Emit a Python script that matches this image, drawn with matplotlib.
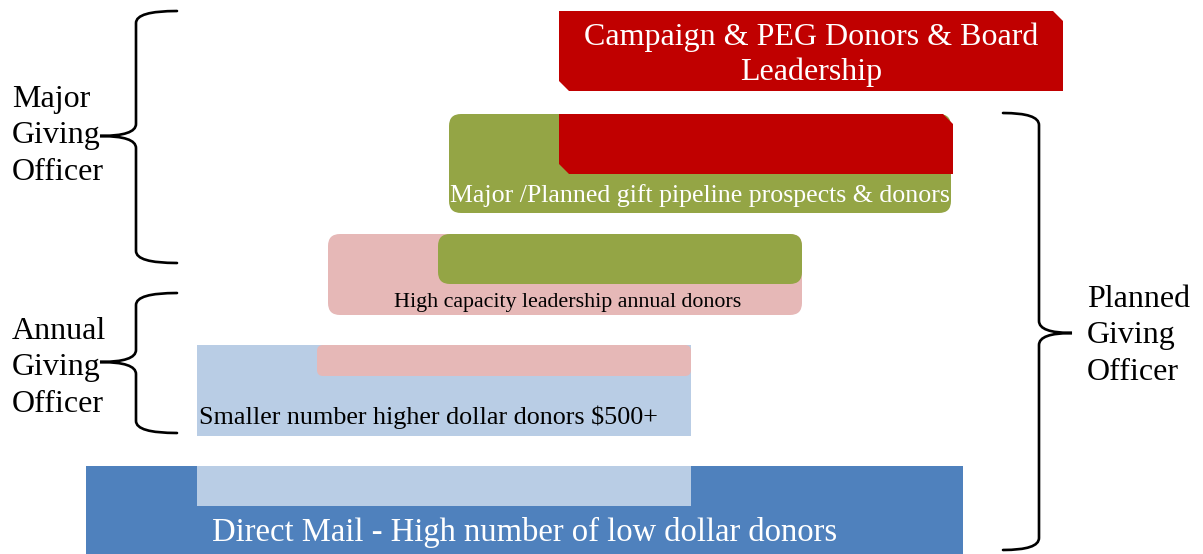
import matplotlib.pyplot as plt
from matplotlib.patches import FancyBboxPatch, Polygon, Rectangle
from matplotlib.path import Path
from matplotlib.patches import PathPatch

# tiers of the giving pyramid, bottom to top (pixel extents of the picture)
tier_labels = [
    "Direct Mail - High number of low dollar donors",
    "Smaller number higher dollar donors $500+",
    "High capacity leadership annual donors",
    "Major /Planned gift pipeline prospects & donors",
    "Campaign & PEG Donors & Board\nLeadership",
]
tier_left = [86, 197, 328, 449, 559]
tier_right = [963, 691, 802, 951, 1063]
tier_top = [466, 345, 234, 114, 11]
tier_bottom = [554, 436, 315, 213, 91]
tier_colors = ["#4F81BD", "#B9CDE5", "#E6B8B7", "#94A545", "#C00000"]
tier_shape = ["square", "square", "round", "round", "snip"]
tier_text_color = ["white", "black", "black", "white", "white"]
tier_text_x = [525, 199, 568, 700, 811]
tier_text_y = [532, 417, 302, 196, 55]
tier_text_ha = ["center", "left", "center", "center", "center"]
tier_fontsize = [23.5, 18.8, 15.8, 18.6, 23]

# the strip of the next tier up that overlaps the top of each tier
overlap_left = [197, 317, 438, 559]
overlap_right = [691, 691, 802, 953]
overlap_height = [40, 31, 50, 60]
overlap_shape = ["square", "round_small", "round", "snip"]

# officer groupings
officer_labels = ["Major\nGiving\nOfficer", "Annual\nGiving\nOfficer", "Planned\nGiving\nOfficer"]
brace_top = [11, 293, 113]
brace_bottom = [263, 433, 550]
brace_mid = [136, 362, 333]
brace_end_x = [177, 177, 1003]
brace_line_x = [136, 136, 1039]
brace_tip_x = [100, 100, 1072]
label_x = [12, 12, 1087]
label_y = [136, 368, 336]

W, H = 1203, 554
fig = plt.figure(figsize=(W / 100, H / 100), dpi=100)
ax = fig.add_axes([0, 0, 1, 1])
ax.set_xlim(0, W)
ax.set_ylim(H, 0)
ax.axis("off")

serif = ["Liberation Serif", "DejaVu Serif"]


def draw_box(x0, x1, y0, y1, color, shape, z):
    if shape in ("round", "round_small"):
        rs = 12 if shape == "round" else 6
        p = FancyBboxPatch((x0, y0), x1 - x0, y1 - y0,
                           boxstyle="round,pad=0,rounding_size=%d" % rs,
                           fc=color, ec="none", zorder=z)
    elif shape == "snip":
        c = 10
        p = Polygon([(x0, y0), (x1 - c, y0), (x1, y0 + c), (x1, y1),
                     (x0 + c, y1), (x0, y1 - c)], closed=True,
                    fc=color, ec="none", zorder=z)
    else:
        p = Rectangle((x0, y0), x1 - x0, y1 - y0, fc=color, ec="none", zorder=z)
    ax.add_patch(p)


for i in range(len(tier_labels)):
    draw_box(tier_left[i], tier_right[i], tier_top[i], tier_bottom[i],
             tier_colors[i], tier_shape[i], 1)
    # overlap strip from the tier above
    if i < len(tier_labels) - 1:
        draw_box(overlap_left[i], overlap_right[i],
                 tier_top[i], tier_top[i] + overlap_height[i],
                 tier_colors[i + 1], overlap_shape[i], 2)
    ax.text(tier_text_x[i], tier_text_y[i], tier_labels[i],
            ha=tier_text_ha[i], va="center", color=tier_text_color[i],
            fontsize=tier_fontsize[i], family=serif, linespacing=1.24, zorder=3)


def brace(xe, xl, xt, y0, y1, ym):
    r = 12
    verts = [(xe, y0), (xl, y0), (xl, y0 + r),
             (xl, ym - r), (xl, ym), (xt, ym),
             (xl, ym), (xl, ym + r),
             (xl, y1 - r), (xl, y1), (xe, y1)]
    codes = [Path.MOVETO, Path.CURVE3, Path.CURVE3,
             Path.LINETO, Path.CURVE3, Path.CURVE3,
             Path.CURVE3, Path.CURVE3,
             Path.LINETO, Path.CURVE3, Path.CURVE3]
    ax.add_patch(PathPatch(Path(verts, codes), fc="none", ec="black",
                           lw=1.9, capstyle="round", zorder=4))


for i in range(len(officer_labels)):
    brace(brace_end_x[i], brace_line_x[i], brace_tip_x[i],
          brace_top[i], brace_bottom[i], brace_mid[i])
    ax.text(label_x[i], label_y[i], officer_labels[i], ha="left", va="center",
            fontsize=23, family=serif, linespacing=1.33, color="black", zorder=3)

plt.savefig("out.png", dpi=100)
